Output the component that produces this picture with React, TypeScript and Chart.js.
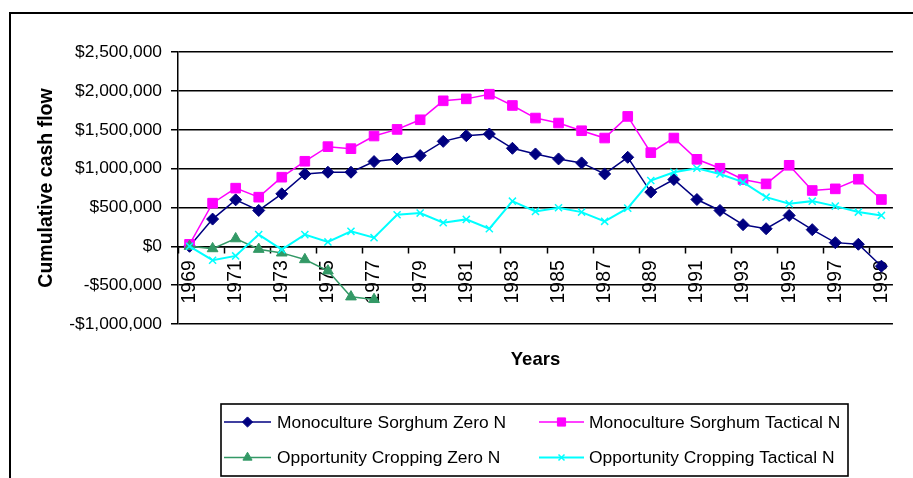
import React, { useEffect, useRef } from 'react';
import { Chart, registerables } from 'chart.js';
import { drawPoint } from 'chart.js/helpers';

Chart.register(...registerables);

const years = [
  '1969', '1970', '1971', '1972', '1973', '1974', '1975', '1976', '1977', '1978',
  '1979', '1980', '1981', '1982', '1983', '1984', '1985', '1986', '1987', '1988',
  '1989', '1990', '1991', '1992', '1993', '1994', '1995', '1996', '1997', '1998', '1999',
];

const monocultureSorghumZeroN = [
  0, 350000, 598000, 461000, 675000, 931000, 953000, 953000, 1090000, 1124000,
  1167000, 1350000, 1423000, 1445000, 1261000, 1188000, 1124000, 1073000, 931000, 1145000,
  697000, 859000, 602000, 461000, 278000, 226000, 397000, 214000, 47000, 26000, -256000,
];

const monocultureSorghumTacticalN = [
  25000, 555000, 748000, 632000, 889000, 1094000, 1282000, 1256000, 1419000, 1504000,
  1628000, 1872000, 1897000, 1957000, 1812000, 1650000, 1586000, 1487000, 1393000, 1671000,
  1205000, 1393000, 1119000, 1004000, 859000, 803000, 1042000, 718000, 739000, 863000, 602000,
];

const opportunityCroppingZeroN = [
  0, -30000, 98000, -38000, -85000, -171000, -316000, -650000, -684000,
];

const opportunityCroppingTacticalN = [
  0, -179000, -124000, 150000, -43000, 150000, 56000, 192000, 111000, 406000,
  427000, 303000, 346000, 226000, 581000, 449000, 496000, 440000, 321000, 491000,
  846000, 953000, 1004000, 931000, 825000, 632000, 547000, 581000, 517000, 440000, 397000,
];

const seriesNames = [
  'Monoculture Sorghum Zero N',
  'Monoculture Sorghum Tactical N',
  'Opportunity Cropping Zero N',
  'Opportunity Cropping Tactical N',
];

const yMin = -1000000;
const yMax = 2500000;
const yStep = 500000;

const FONT = "'Liberation Sans', Arial, sans-serif";

const frameAndLegend = {
  id: 'frameAndLegend',
  beforeDraw(chart: any) {
    const ctx = chart.ctx;
    ctx.save();
    ctx.strokeStyle = '#000';
    ctx.lineWidth = 2;
    ctx.strokeRect(10, 13, 2000, 2000);
    ctx.restore();
  },
  afterDraw(chart: any) {
    const ctx = chart.ctx;
    ctx.save();
    ctx.strokeStyle = '#000';
    ctx.lineWidth = 1.6;
    ctx.strokeRect(221, 404, 627, 72);
    const cols = [
      { l0: 224, l1: 271, tx: 277 },
      { l0: 539, l1: 584, tx: 589 },
    ];
    const rows = [422, 457.5];
    chart.data.datasets.forEach((ds: any, i: number) => {
      const c = cols[i % 2];
      const y = rows[Math.floor(i / 2)];
      ctx.strokeStyle = ds.borderColor;
      ctx.lineWidth = ds.borderWidth;
      ctx.beginPath();
      ctx.moveTo(c.l0, y);
      ctx.lineTo(c.l1, y);
      ctx.stroke();
      ctx.fillStyle = ds.pointBackgroundColor;
      ctx.strokeStyle = ds.pointBorderColor;
      ctx.lineWidth = ds.pointBorderWidth;
      drawPoint(ctx, { pointStyle: ds.pointStyle, rotation: 0, radius: ds.pointRadius * 0.85, borderWidth: ds.pointBorderWidth }, (c.l0 + c.l1) / 2, y);
      ctx.fillStyle = '#000';
      ctx.font = `17.4px ${FONT}`;
      ctx.textBaseline = 'middle';
      ctx.textAlign = 'left';
      ctx.fillText(ds.label, c.tx, y + 1);
    });
    ctx.restore();
  },
};

export default function App() {
  const ref = useRef<HTMLCanvasElement | null>(null);

  useEffect(() => {
    if (!ref.current) return;
    const navy = '#000080';
    const magenta = '#FF00FF';
    const green = '#339966';
    const cyan = '#00FFFF';
    const chart = new Chart(ref.current, {
      type: 'line',
      data: {
        labels: years,
        datasets: [
          {
            label: seriesNames[0],
            data: monocultureSorghumZeroN,
            borderColor: navy,
            backgroundColor: navy,
            borderWidth: 1.5,
            pointStyle: 'rectRot',
            pointRadius: 6,
            pointBackgroundColor: navy,
            pointBorderColor: navy,
            pointBorderWidth: 1,
            tension: 0,
            order: 4,
          },
          {
            label: seriesNames[1],
            data: monocultureSorghumTacticalN,
            borderColor: magenta,
            backgroundColor: magenta,
            borderWidth: 1.5,
            pointStyle: 'rect',
            pointRadius: 6.8,
            pointBackgroundColor: magenta,
            pointBorderColor: magenta,
            pointBorderWidth: 1,
            tension: 0,
            order: 3,
          },
          {
            label: seriesNames[2],
            data: opportunityCroppingZeroN,
            borderColor: green,
            backgroundColor: green,
            borderWidth: 1.5,
            pointStyle: 'triangle',
            pointRadius: 6.2,
            pointBackgroundColor: green,
            pointBorderColor: green,
            pointBorderWidth: 1,
            tension: 0,
            order: 2,
          },
          {
            label: seriesNames[3],
            data: opportunityCroppingTacticalN,
            borderColor: cyan,
            backgroundColor: cyan,
            borderWidth: 2,
            pointStyle: 'crossRot',
            pointRadius: 5,
            pointBackgroundColor: cyan,
            pointBorderColor: cyan,
            pointBorderWidth: 1.5,
            tension: 0,
            order: 1,
          },
        ],
      },
      options: {
        responsive: false,
        animation: false,
        events: [],
        layout: { padding: { left: 10, top: 52, right: 19, bottom: 154 } },
        plugins: {
          legend: { display: false },
          tooltip: { enabled: false },
        },
        scales: {
          x: {
            type: 'category',
            position: { y: 0 } as any,
            offset: true,
            grid: {
              offset: true,
              drawOnChartArea: false,
              drawTicks: true,
              tickLength: 6,
              tickWidth: 1.5,
              tickColor: (c: any) => (c.index % 2 === 0 ? '#000' : 'rgba(0,0,0,0)'),
              color: '#000',
            },
            border: { display: true, color: '#000', width: 1.5 },
            ticks: {
              autoSkip: false,
              maxRotation: 90,
              minRotation: 90,
              padding: 8,
              color: '#000',
              font: { family: FONT, size: 19.4 },
              callback: (_v: any, i: number) => (i % 2 === 0 ? years[i] : ''),
            },
            title: {
              display: true,
              text: 'Years',
              color: '#000',
              font: { family: FONT, size: 18.5, weight: 'bold' },
              padding: { top: 37, bottom: 0 },
            },
          },
          y: {
            min: yMin,
            max: yMax,
            afterFit: (s: any) => {
              s.width = 168;
            },
            grid: {
              color: '#000',
              lineWidth: 1.5,
              tickLength: 7,
              drawTicks: true,
            },
            border: { display: true, color: '#000', width: 1.5 },
            ticks: {
              stepSize: yStep,
              padding: 9,
              color: '#000',
              font: { family: FONT, size: 17.4 },
              callback: (v: any) => {
                const n = Number(v);
                const s = '$' + Math.abs(n).toLocaleString('en-US');
                return n < 0 ? '-' + s : s;
              },
            },
            title: {
              display: true,
              text: 'Cumulative cash flow',
              color: '#000',
              font: { family: FONT, size: 19.5, weight: 'bold' },
              padding: { top: 25, bottom: 0 },
            },
          },
        },
      },
      plugins: [frameAndLegend],
    });
    return () => chart.destroy();
  }, []);

  return (
    <div style={{ position: 'absolute', left: 0, top: 0, width: 913, height: 478, background: '#fff' }}>
      <canvas ref={ref} width={913} height={478} style={{ display: 'block' }} />
    </div>
  );
}
